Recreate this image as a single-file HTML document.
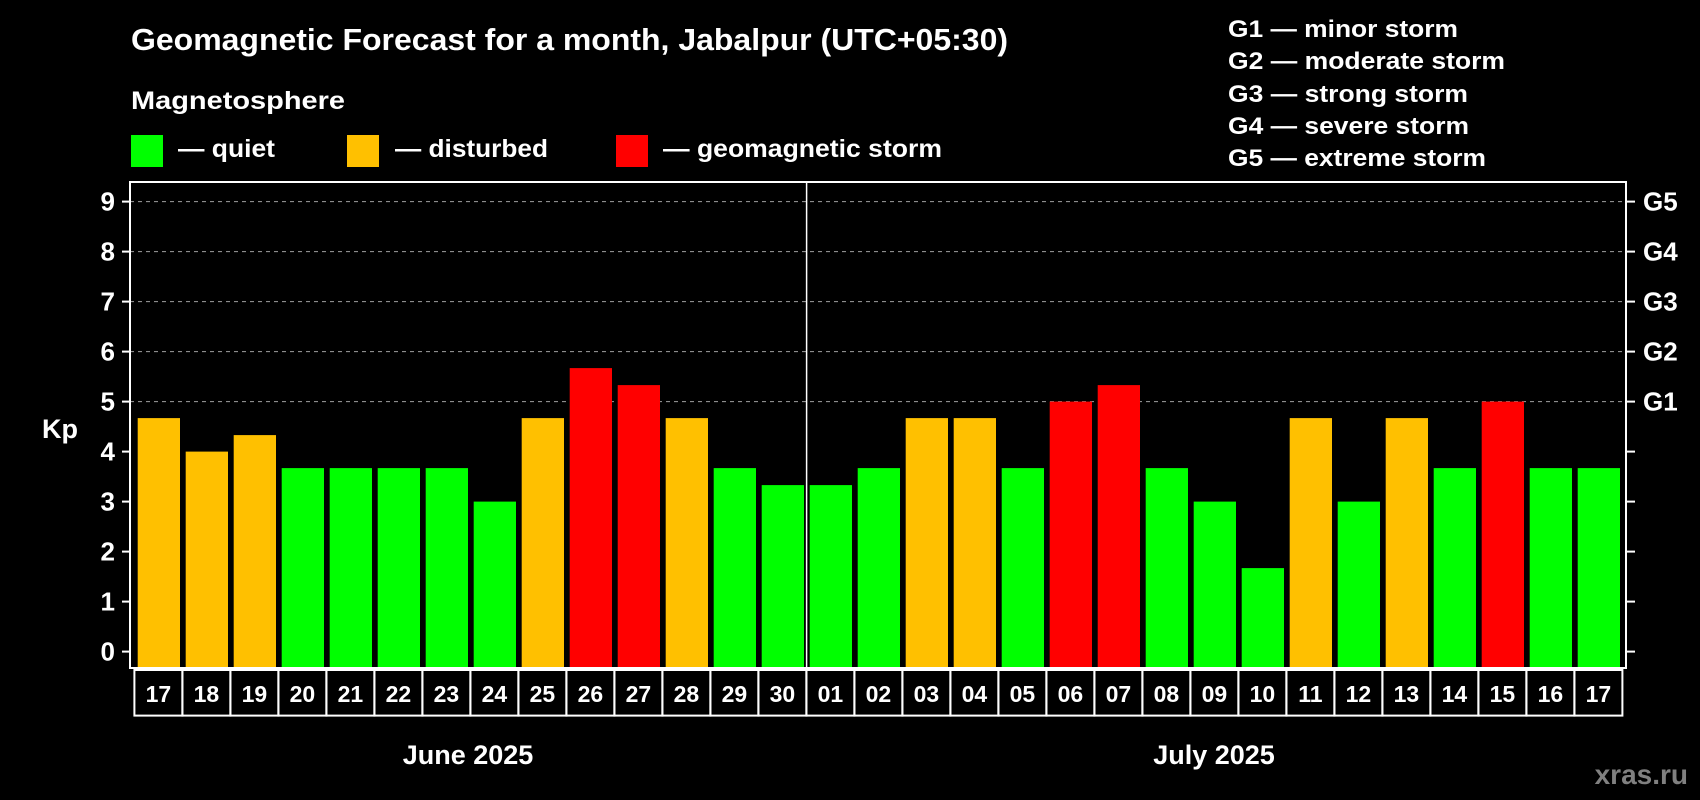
<!DOCTYPE html>
<html><head><meta charset="utf-8"><style>
html,body{margin:0;padding:0;background:#000;}
svg{display:block;font-family:"Liberation Sans",Arial,sans-serif;font-weight:bold;}
</style></head><body>
<svg id="chart" width="1700" height="800" viewBox="0 0 1700 800">
<rect x="0" y="0" width="1700" height="800" fill="#000"/>
<text x="131" y="50" fill="#fff" font-size="31" textLength="877" lengthAdjust="spacingAndGlyphs">Geomagnetic Forecast for a month, Jabalpur (UTC+05:30)</text>
<text x="131" y="109" fill="#fff" font-size="25" textLength="214" lengthAdjust="spacingAndGlyphs">Magnetosphere</text>
<g>
<rect x="131" y="135" width="32" height="32" fill="#00ff00"/>
<text x="178" y="157" fill="#fff" font-size="25" textLength="97" lengthAdjust="spacingAndGlyphs">— quiet</text></g>
<g>
<rect x="347" y="135" width="32" height="32" fill="#ffc000"/>
<text x="395" y="157" fill="#fff" font-size="25" textLength="153" lengthAdjust="spacingAndGlyphs">— disturbed</text></g>
<g>
<rect x="616" y="135" width="32" height="32" fill="#ff0000"/>
<text x="663" y="157" fill="#fff" font-size="25" textLength="279" lengthAdjust="spacingAndGlyphs">— geomagnetic storm</text></g>
<g font-size="24" fill="#fff">
<text x="1228" y="37" textLength="230" lengthAdjust="spacingAndGlyphs">G1 — minor storm</text>
<text x="1228" y="69" textLength="277" lengthAdjust="spacingAndGlyphs">G2 — moderate storm</text>
<text x="1228" y="102" textLength="240" lengthAdjust="spacingAndGlyphs">G3 — strong storm</text>
<text x="1228" y="134" textLength="241" lengthAdjust="spacingAndGlyphs">G4 — severe storm</text>
<text x="1228" y="166" textLength="258" lengthAdjust="spacingAndGlyphs">G5 — extreme storm</text>
</g>
<text x="42" y="438" fill="#fff" font-size="27">Kp</text>
<g id="grid"></g><g id="bars"></g><g id="axes"></g><g id="dates"></g>
<text x="468" y="764" fill="#fff" font-size="27" text-anchor="middle">June 2025</text>
<text x="1214" y="764" fill="#fff" font-size="27" text-anchor="middle">July 2025</text>
<text x="1688" y="784" fill="#808080" font-size="28" text-anchor="end">xras.ru</text>
</svg>
<script>
const days = ["17","18","19","20","21","22","23","24","25","26","27","28","29","30","01","02","03","04","05","06","07","08","09","10","11","12","13","14","15","16","17"];
const kpValues = [4.67,4.0,4.33,3.67,3.67,3.67,3.67,3.0,4.67,5.67,5.33,4.67,3.67,3.33,3.33,3.67,4.67,4.67,3.67,5.0,5.33,3.67,3.0,1.67,4.67,3.0,4.67,3.67,5.0,3.67,3.67];
const yTicks = [0,1,2,3,4,5,6,7,8,9];
const gLabels = ["G1","G2","G3","G4","G5"];
const NS = "http://www.w3.org/2000/svg";
const plotL = 130, plotR = 1626, plotT = 182, plotB = 668;
const y0 = 651.6, unit = 50;
function y(v){ return y0 - v*unit; }
const firstX = 137.7, pitch = 48, barW = 42.3;
function x(i){ return firstX + i*pitch; }
function color(v){ return v >= 5 ? "#ff0000" : (v >= 4 ? "#ffc000" : "#00ff00"); }
function mk(tag, attrs, parent){ const e = document.createElementNS(NS, tag); for (const k in attrs) e.setAttribute(k, attrs[k]); parent.appendChild(e); return e; }
const grid = document.getElementById("grid"), bars = document.getElementById("bars"), axes = document.getElementById("axes"), dates = document.getElementById("dates");
yTicks.forEach(function(t){
  if (t >= 5) {
    const g = mk("line", {x1: plotL, x2: plotR, y1: y(t), y2: y(t), stroke: "#a0a0a0", "stroke-width": 1, "stroke-dasharray": "4,4"}, grid);
    
    
  }
  const tk = mk("line", {x1: plotL - 8, x2: plotL, y1: y(t), y2: y(t), stroke: "#fff", "stroke-width": 2}, axes);
  
  
  const lb = mk("text", {x: 115, y: y(t) + 9, fill: "#fff", "font-size": 26, "text-anchor": "end"}, axes);
  lb.textContent = t;
  
  
  const rt = mk("line", {x1: plotR, x2: plotR + 9, y1: y(t), y2: y(t), stroke: "#fff", "stroke-width": 2}, axes);
  
  
  if (t >= 5) {
    const gl = mk("text", {x: 1643, y: y(t) + 9, fill: "#fff", "font-size": 26}, axes);
    gl.textContent = gLabels[t - 5];
    
    
  }
});
kpValues.forEach(function(v, i){
  const b = mk("rect", {x: x(i), y: y(v), width: barW, height: plotB - y(v), fill: color(v)}, bars);
  
  
});
const frame = mk("rect", {x: plotL, y: plotT, width: plotR - plotL, height: plotB - plotT, fill: "none", stroke: "#fff", "stroke-width": 2}, axes);


const div = mk("line", {x1: 806.6, x2: 806.6, y1: plotT, y2: plotB, stroke: "#fff", "stroke-width": 1.5}, axes);


days.forEach(function(d, i){
  const bx = 134.4 + i*pitch;
  const r = mk("rect", {x: bx, y: 670, width: pitch, height: 45.6, fill: "none", stroke: "#fff", "stroke-width": 2}, dates);
  
  
  const t = mk("text", {x: bx + pitch/2, y: 702, fill: "#fff", "font-size": 23, "text-anchor": "middle"}, dates);
  t.textContent = d;
  
  
});
</script>
</body></html>
